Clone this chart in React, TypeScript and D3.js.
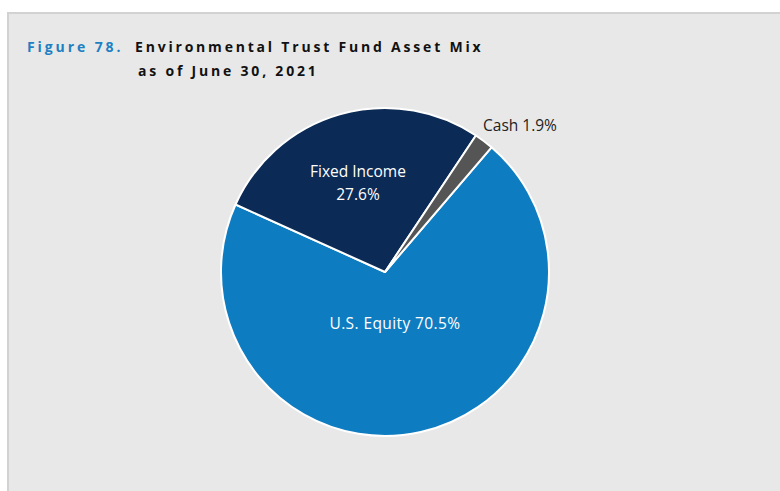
import * as d3 from "d3";

const categories = ["U.S. Equity", "Fixed Income", "Cash"];
const shares = [70.5, 27.6, 1.9];
const sliceColors = ["#0e7cc1", "#0b2a55", "#555555"];

const W = 780;
const H = 491;
const cx = 385;
const cy = 272;
const R = 164;
const font = "'Open Sans', 'Noto Sans', sans-serif";

export default function App() {
  const data = categories.map((c, i) => ({ label: c, value: shares[i], color: sliceColors[i] }));
  // start angle: equity begins just right of the cash wedge
  const start = (40.5 * Math.PI) / 180;
  const pie = d3
    .pie<{ label: string; value: number; color: string }>()
    .value((d) => d.value)
    .sort(null)
    .startAngle(start)
    .endAngle(start + 2 * Math.PI);
  const arcs = pie(data);
  const arc = d3.arc<d3.PieArcDatum<any>>().innerRadius(0).outerRadius(R);

  return (
    <svg width={W} height={H} style={{ position: "absolute", left: 0, top: 0 }}>
      <rect x={0} y={0} width={W} height={H} fill="#ffffff" />
      <rect x={7} y={12} width={W - 7} height={H - 12} fill="#e8e8e8" />
      <line x1={8} y1={12} x2={8} y2={H} stroke="#d2d2d2" strokeWidth={2} />
      <line x1={7} y1={13} x2={W} y2={13} stroke="#d2d2d2" strokeWidth={2} />

      <text x={27} y={52} fontFamily={font} fontWeight={700} fontSize={14} letterSpacing={2.9} fill="#1d80c3">
        Figure 78.
      </text>
      <text x={135} y={52} fontFamily={font} fontWeight={700} fontSize={14} letterSpacing={2.8} fill="#111111">
        Environmental Trust Fund Asset Mix
      </text>
      <text x={138} y={76} fontFamily={font} fontWeight={700} fontSize={14} letterSpacing={2.8} fill="#111111">
        as of June 30, 2021
      </text>

      <g transform={`translate(${cx},${cy})`}>
        {arcs.map((a) => (
          <path key={a.data.label} d={arc(a) ?? ""} fill={a.data.color} stroke="#ffffff" strokeWidth={2} strokeLinejoin="round" />
        ))}
      </g>

      <text x={358} y={177} textAnchor="middle" fontFamily={font} fontSize={15.5} fill="#ffffff">
        {categories[1]}
      </text>
      <text x={358} y={200} textAnchor="middle" fontFamily={font} fontSize={15.5} fill="#ffffff">
        {shares[1].toFixed(1)}%
      </text>
      <text x={395} y={329} textAnchor="middle" fontFamily={font} fontSize={15.5} letterSpacing={0.4} fill="#ffffff">
        {categories[0]} {shares[0].toFixed(1)}%
      </text>
      <text x={483} y={131} fontFamily={font} fontSize={15.5} fill="#222222">
        {categories[2]} {shares[2].toFixed(1)}%
      </text>
    </svg>
  );
}
